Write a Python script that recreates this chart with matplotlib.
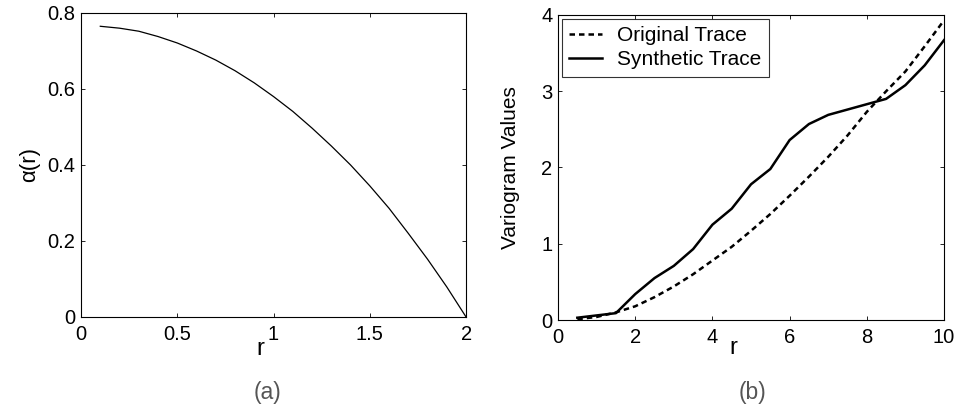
import matplotlib
matplotlib.use("Agg")
import matplotlib.pyplot as plt

plt.rcParams['font.family'] = ['Liberation Sans', 'DejaVu Sans']
plt.rcParams['font.size'] = 14.5

# panel (a)
r_a = [0.1, 0.2, 0.3, 0.4, 0.5, 0.6, 0.7, 0.8, 0.9, 1.0,
       1.1, 1.2, 1.3, 1.4, 1.5, 1.6, 1.7, 1.8, 1.9, 2.0]
alpha = [0.765, 0.760, 0.752, 0.738, 0.721, 0.700, 0.676, 0.648, 0.616, 0.580,
         0.541, 0.497, 0.450, 0.400, 0.345, 0.286, 0.220, 0.152, 0.079, 0.0]

# panel (b)
r_b = [0.5, 1.0, 1.5, 2.0, 2.5, 3.0, 3.5, 4.0, 4.5, 5.0,
       5.5, 6.0, 6.5, 7.0, 7.5, 8.0, 8.5, 9.0, 9.5, 10.0]
original = [0.01, 0.04, 0.10, 0.18, 0.30, 0.44, 0.60, 0.78, 0.96, 1.17,
            1.39, 1.63, 1.88, 2.14, 2.42, 2.73, 3.00, 3.26, 3.59, 3.93]
synthetic = [0.03, 0.06, 0.09, 0.34, 0.55, 0.71, 0.93, 1.25, 1.46, 1.78,
             1.98, 2.36, 2.57, 2.69, 2.76, 2.83, 2.90, 3.08, 3.34, 3.67]

fig = plt.figure(figsize=(9.58, 4.12), dpi=100)
ax1 = fig.add_axes([0.0846, 0.2306, 0.4019, 0.7379])
ax2 = fig.add_axes([0.5825, 0.2233, 0.4029, 0.7403])

ax1.plot(r_a, alpha, color='black', lw=0.9)
ax1.set_xlim(0, 2)
ax1.set_ylim(0, 0.8)
ax1.set_xticks([0, 0.5, 1, 1.5, 2])
ax1.set_xticklabels(['0', '0.5', '1', '1.5', '2'])
ax1.set_yticks([0, 0.2, 0.4, 0.6, 0.8])
ax1.set_yticklabels(['0', '0.2', '0.4', '0.6', '0.8'])
ax1.set_xlabel('r', fontsize=17)
ax1.set_ylabel('α(r)', fontsize=16)
ax1.xaxis.set_label_coords(0.466, -0.07)
ax1.yaxis.set_label_coords(-0.106, 0.5)

ax2.plot(r_b, original, color='black', lw=1.8, ls=(0, (2.2, 1.6)), label='Original Trace')
ax2.plot(r_b, synthetic, color='black', lw=1.8, label='Synthetic Trace')
ax2.set_xlim(0, 10)
ax2.set_ylim(0, 4)
ax2.set_xticks([0, 2, 4, 6, 8, 10])
ax2.set_yticks([0, 1, 2, 3, 4])
ax2.set_xlabel('r', fontsize=17)
ax2.set_ylabel('Variogram Values', fontsize=15)
ax2.xaxis.set_label_coords(0.455, -0.057)
ax2.yaxis.set_label_coords(-0.098, 0.5)
leg = ax2.legend(loc='upper left', fancybox=False, edgecolor='black', fontsize=15,
                 borderaxespad=0.19, handlelength=1.55, borderpad=0.35,
                 labelspacing=0.25, handletextpad=0.75)
leg.get_frame().set_linewidth(0.8)

for ax in (ax1, ax2):
    ax.tick_params(direction='in', top=True, right=True, length=3, width=0.6)
    ax.tick_params(axis='x', pad=5.5)
    ax.tick_params(axis='y', pad=4)
    for s in ax.spines.values():
        s.set_linewidth(0.8)

fig.text(0.2794, 0.0485, '(a)', ha='center', va='center', color='#555555', fontsize=16.5)
fig.text(0.7855, 0.0485, '(b)', ha='center', va='center', color='#555555', fontsize=16.5)

fig.savefig('out.png', dpi=100)
